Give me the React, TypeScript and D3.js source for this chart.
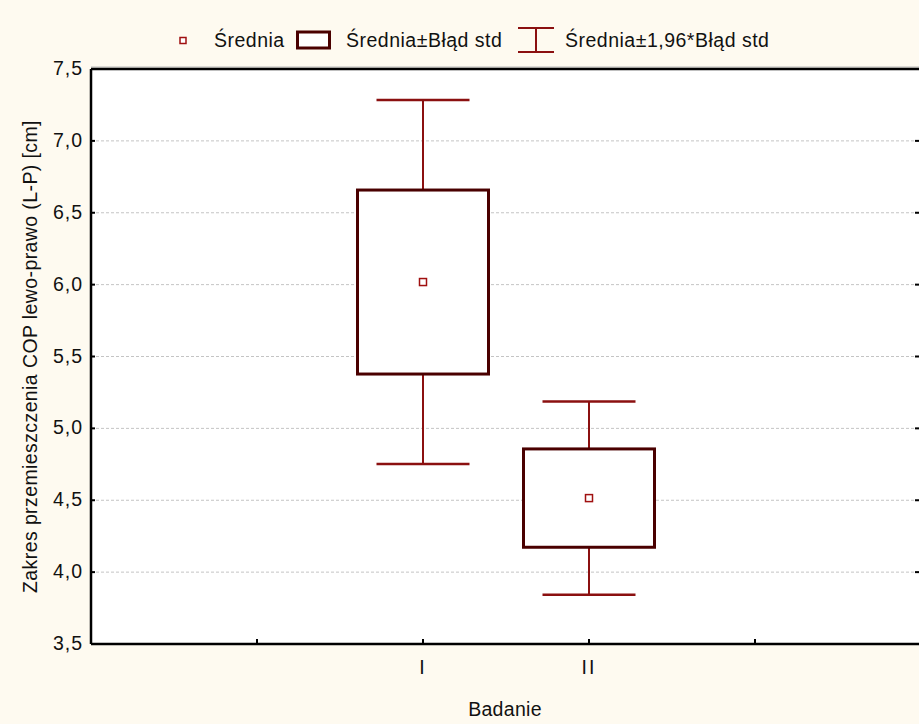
import React, { useEffect, useRef } from 'react';
import * as d3 from 'd3';

const categories = ['I', 'II'];
const means = [6.018, 4.515];
const stdErr = [0.64, 0.342];
const ciHalf = [1.266, 0.672];
const yTicks = [3.5, 4.0, 4.5, 5.0, 5.5, 6.0, 6.5, 7.0, 7.5];
const legendLabels = ['Średnia', 'Średnia±Błąd std', 'Średnia±1,96*Błąd std'];

const W = 919;
const H = 724;
const BOX_COLOR = '#4a0000';
const WHISKER_COLOR = '#8b1010';
const FONT = 'Liberation Sans, Arial, sans-serif';

const App = () => {
    const svgRef = useRef(null);

    useEffect(() => {
        const svg = d3.select(svgRef.current);
        svg.selectAll('*').remove();

        const left = 91;
        const right = 919;
        const top = 69;
        const bottom = 644;

        svg.append('rect').attr('width', W).attr('height', H).attr('fill', '#fefaf0');
        svg.append('rect')
            .attr('x', left).attr('y', top)
            .attr('width', right - left).attr('height', bottom - top)
            .attr('fill', '#ffffff');

        const y = d3.scaleLinear().domain([3.5, 7.5]).range([bottom, top]);
        // positions 0..5 across the plot, categories sit at 2 and 3
        const x = d3.scaleLinear().domain([0, 5]).range([left, left + 166 * 5]);
        const catPos = categories.map((_, i) => i + 2);

        // grid
        svg.append('g')
            .selectAll('line')
            .data(yTicks.slice(1, -1))
            .join('line')
            .attr('x1', left).attr('x2', right)
            .attr('y1', d => y(d)).attr('y2', d => y(d))
            .attr('stroke', '#c4c4c4')
            .attr('stroke-width', 1)
            .attr('stroke-dasharray', '3,2');

        categories.forEach((c, i) => {
            const cx = x(catPos[i]);
            const g = svg.append('g');
            const hi = means[i] + ciHalf[i];
            const lo = means[i] - ciHalf[i];
            // whiskers (1.96 * SE)
            g.append('line')
                .attr('x1', cx).attr('x2', cx)
                .attr('y1', y(hi)).attr('y2', y(lo))
                .attr('stroke', WHISKER_COLOR).attr('stroke-width', 2);
            [hi, lo].forEach(v => {
                g.append('line')
                    .attr('x1', cx - 46.5).attr('x2', cx + 46.5)
                    .attr('y1', y(v)).attr('y2', y(v))
                    .attr('stroke', WHISKER_COLOR).attr('stroke-width', 2.5);
            });
            // box (mean +- SE)
            g.append('rect')
                .attr('x', cx - 65.5)
                .attr('y', y(means[i] + stdErr[i]))
                .attr('width', 131)
                .attr('height', y(means[i] - stdErr[i]) - y(means[i] + stdErr[i]))
                .attr('fill', '#ffffff')
                .attr('stroke', BOX_COLOR)
                .attr('stroke-width', 3);
            // mean marker
            g.append('rect')
                .attr('x', cx - 3.5).attr('y', y(means[i]) - 3.5)
                .attr('width', 7).attr('height', 7)
                .attr('fill', '#ffffff')
                .attr('stroke', '#a01010')
                .attr('stroke-width', 1.5);
        });

        // frame
        svg.append('line').attr('x1', left).attr('x2', right).attr('y1', top - 2).attr('y2', top - 2)
            .attr('stroke', '#bbb').attr('stroke-width', 1);
        svg.append('line').attr('x1', left).attr('x2', right).attr('y1', top).attr('y2', top)
            .attr('stroke', '#000').attr('stroke-width', 2.5);
        svg.append('line').attr('x1', left).attr('x2', right).attr('y1', bottom).attr('y2', bottom)
            .attr('stroke', '#000').attr('stroke-width', 2.5);
        svg.append('line').attr('x1', left).attr('x2', left).attr('y1', top).attr('y2', bottom)
            .attr('stroke', '#000').attr('stroke-width', 2.5);

        // y ticks + labels
        const yAxis = svg.append('g');
        yAxis.selectAll('line.tl')
            .data(yTicks)
            .join('line')
            .attr('x1', left).attr('x2', left + 4)
            .attr('y1', d => y(d)).attr('y2', d => y(d))
            .attr('stroke', '#000').attr('stroke-width', 2);
        yAxis.selectAll('line.tr')
            .data(yTicks)
            .join('line')
            .attr('x1', right - 4).attr('x2', right)
            .attr('y1', d => y(d)).attr('y2', d => y(d))
            .attr('stroke', '#000').attr('stroke-width', 2);
        yAxis.selectAll('text')
            .data(yTicks)
            .join('text')
            .attr('x', left - 8)
            .attr('y', d => y(d) + 6)
            .attr('text-anchor', 'end')
            .attr('font-family', FONT)
            .attr('font-size', 19.5)
            .attr('letter-spacing', 1)
            .attr('fill', '#111')
            .text(d => d.toFixed(1).replace('.', ','));

        // x ticks + labels
        svg.append('g')
            .selectAll('line')
            .data([1, 2, 3, 4])
            .join('line')
            .attr('x1', d => x(d)).attr('x2', d => x(d))
            .attr('y1', bottom).attr('y2', bottom - 5)
            .attr('stroke', '#000').attr('stroke-width', 2);
        svg.append('g')
            .selectAll('text')
            .data(categories)
            .join('text')
            .attr('x', (d, i) => x(catPos[i]))
            .attr('y', bottom + 30)
            .attr('text-anchor', 'middle')
            .attr('font-family', FONT)
            .attr('font-size', 19.5)
            .attr('letter-spacing', 2)
            .attr('fill', '#111')
            .text(d => d);

        // axis titles
        svg.append('text')
            .attr('x', 505).attr('y', 716)
            .attr('text-anchor', 'middle')
            .attr('font-family', FONT).attr('font-size', 19.5).attr('letter-spacing', 0.3).attr('fill', '#111')
            .text('Badanie');
        svg.append('text')
            .attr('transform', `translate(37,${(top + bottom) / 2}) rotate(-90)`)
            .attr('text-anchor', 'middle')
            .attr('font-family', FONT).attr('font-size', 19.5).attr('letter-spacing', 0.4).attr('fill', '#111')
            .text('Zakres przemieszczenia COP lewo-prawo (L-P) [cm]');

        // legend
        const lg = svg.append('g').attr('font-family', FONT).attr('font-size', 19.5)
            .attr('letter-spacing', 0.5).attr('fill', '#111');
        lg.append('rect').attr('x', 180).attr('y', 37.5).attr('width', 6).attr('height', 6)
            .attr('fill', '#fff').attr('stroke', '#a01010').attr('stroke-width', 1.5);
        lg.append('text').attr('x', 214).attr('y', 47).text(legendLabels[0]);
        lg.append('rect').attr('x', 297.5).attr('y', 32).attr('width', 32).attr('height', 16)
            .attr('fill', '#fff').attr('stroke', BOX_COLOR).attr('stroke-width', 3);
        lg.append('text').attr('x', 346).attr('y', 47).text(legendLabels[1]);
        lg.append('line').attr('x1', 518).attr('x2', 554).attr('y1', 28).attr('y2', 28)
            .attr('stroke', WHISKER_COLOR).attr('stroke-width', 2);
        lg.append('line').attr('x1', 518).attr('x2', 554).attr('y1', 52).attr('y2', 52)
            .attr('stroke', WHISKER_COLOR).attr('stroke-width', 2);
        lg.append('line').attr('x1', 536).attr('x2', 536).attr('y1', 28).attr('y2', 52)
            .attr('stroke', WHISKER_COLOR).attr('stroke-width', 2);
        lg.append('text').attr('x', 565).attr('y', 47).text(legendLabels[2]);
    }, []);

    return (
        <svg
            ref={svgRef}
            width={W}
            height={H}
            style={{ position: 'absolute', left: 0, top: 0, display: 'block' }}
        ></svg>
    );
};

export default App;
